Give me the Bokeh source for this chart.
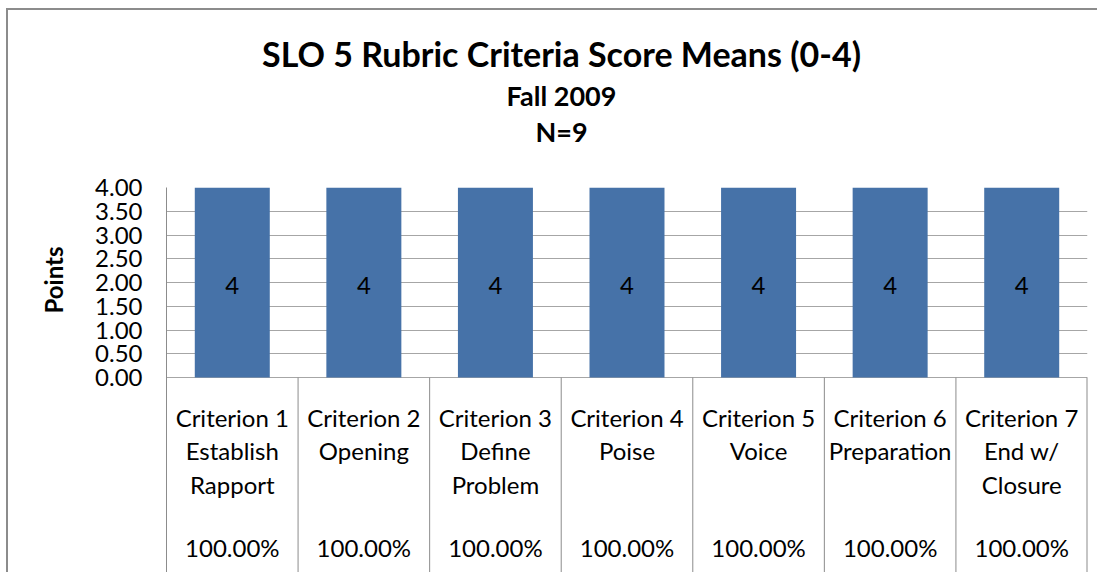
from bokeh.plotting import figure
from bokeh.models import FactorRange, Range1d, FixedTicker, NumeralTickFormatter, Title, ColumnDataSource
from bokeh.layouts import column
from bokeh.embed import file_html
from bokeh.resources import INLINE
from bokeh.core.properties import value

# ---------------- data ----------------
title_text = "SLO 5 Rubric Criteria Score Means (0-4)"
subtitle_1 = "Fall 2009"
subtitle_2 = "N=9"
y_label = "Points"
criteria = ["Criterion 1", "Criterion 2", "Criterion 3", "Criterion 4",
            "Criterion 5", "Criterion 6", "Criterion 7"]
descriptions = ["Establish\nRapport", "Opening", "Define\nProblem", "Poise",
                "Voice", "Preparation", "End w/\nClosure"]
means = [4, 4, 4, 4, 4, 4, 4]
percents = [100.0, 100.0, 100.0, 100.0, 100.0, 100.0, 100.0]
y_ticks = [0.0, 0.5, 1.0, 1.5, 2.0, 2.5, 3.0, 3.5, 4.0]

# ---------------- style / layout ----------------
FONT = "Lato"
BAR = "#4672a8"
GRID = "#a6a6a6"
AXIS = "#8c8c8c"
W = 1089
LEFT = 158
RIGHT = 10
FRAME_W = W - LEFT - RIGHT
HEAD_H = 161
TOP_PAD = 16
PLOT_PX = 190          # height of the 0..4 plot area in pixels
TABLE_PX = 195         # height of the category table below the plot
MAIN_H = TOP_PAD + PLOT_PX + TABLE_PX
Y_MAX = max(y_ticks)
PPU = PLOT_PX / Y_MAX  # pixels per data unit
Y_MIN = -TABLE_PX / PPU
TITLE_X = 395          # title centre, pixels from the plot area's left edge
BORDER = 2


def y_below(px):
    """data y for a position px pixels below the zero line"""
    return -px / PPU


# ---------------- header (titles) ----------------
head = figure(width=W, height=HEAD_H, x_range=Range1d(0, FRAME_W), y_range=Range1d(HEAD_H, 0),
              x_axis_location=None, y_axis_location=None, output_backend="svg",
              toolbar_location=None, min_border_left=LEFT, min_border_right=RIGHT,
              min_border_top=0, min_border_bottom=0)
head.grid.visible = False
head.outline_line_color = None
head.background_fill_color = "white"
head.border_fill_color = "white"
head.text(x=[TITLE_X], y=[43], text=[title_text], text_align="center", text_baseline="middle",
          text_font=value(FONT), text_font_size="34px", text_font_style="bold", text_color="black")
head.text(x=[TITLE_X, TITLE_X], y=[85, 121], text=[subtitle_1, subtitle_2], text_align="center",
          text_baseline="middle", text_font=value(FONT), text_font_size="27px",
          text_font_style="bold", text_color="black")

# ---------------- main plot + table ----------------
x_range = FactorRange(factors=criteria, range_padding=0)
p = figure(width=W, height=MAIN_H, x_range=x_range,
           y_range=Range1d(Y_MIN, Y_MAX), x_axis_location=None,
           output_backend="svg", toolbar_location=None,
           min_border_left=LEFT, min_border_right=RIGHT, min_border_top=TOP_PAD, min_border_bottom=0)
p.outline_line_color = None
p.background_fill_color = "white"
p.border_fill_color = "white"
p.xgrid.visible = False
p.ygrid.ticker = FixedTicker(ticks=y_ticks)
p.ygrid.grid_line_color = GRID
p.ygrid.grid_line_width = 1

ax = p.yaxis[0]
ax.ticker = FixedTicker(ticks=y_ticks)
ax.formatter = NumeralTickFormatter(format="0.00")
ax.axis_line_color = AXIS
ax.major_tick_line_color = None
ax.minor_tick_line_color = None
ax.major_tick_out = 0
ax.major_tick_in = 0
ax.major_label_standoff = 24
ax.major_label_text_font = FONT
ax.major_label_text_font_size = "24px"
ax.major_label_text_color = "black"

p.add_layout(Title(text=y_label, align="right", offset=59, standoff=50,
                   text_font=FONT, text_font_size="24px", text_font_style="bold",
                   text_color="black"), "left")

src = ColumnDataSource(dict(
    x=criteria,
    top=means,
    mid=[m / 2 for m in means],
    lbl=[f"{m:g}" for m in means],
))
p.vbar(x="x", top="top", bottom=0, width=0.57, source=src,
       fill_color=BAR, line_color=None)
p.text(x="x", y="mid", text="lbl", source=src, text_align="center",
       text_baseline="middle", y_offset=3, text_font=value(FONT), text_font_size="24px",
       text_color="black")

# table grid lines
bounds = list(range(1, len(criteria) + 1))
p.segment(x0=bounds[:-1], y0=Y_MIN, x1=bounds[:-1], y1=0, line_color=AXIS, line_width=1)
p.segment(x0=bounds[-1:], y0=Y_MIN, x1=bounds[-1:], y1=0, line_color=AXIS, line_width=2)

labels = [f"{c}\n{d}" for c, d in zip(criteria, descriptions)]
p.text(x=criteria, y=y_below(25), text=labels, text_align="center", text_baseline="top",
       text_line_height=1.16, text_font=value(FONT), text_font_size="24px",
       text_color="black")
p.text(x=criteria, y=y_below(170), text=[f"{v:.2f}%" for v in percents], text_align="center",
       text_baseline="middle", text_font=value(FONT), text_font_size="24px",
       text_color="black")

layout = column(head, p, width=W + BORDER, height=HEAD_H + MAIN_H + BORDER,
                styles={"margin-left": "6px", "margin-top": "8px",
                        "border-left": f"{BORDER}px solid #8c8c8c",
                        "border-top": f"{BORDER}px solid #8c8c8c",
                        "overflow": "hidden"})

open("out.html", "w").write(file_html(layout, INLINE))
